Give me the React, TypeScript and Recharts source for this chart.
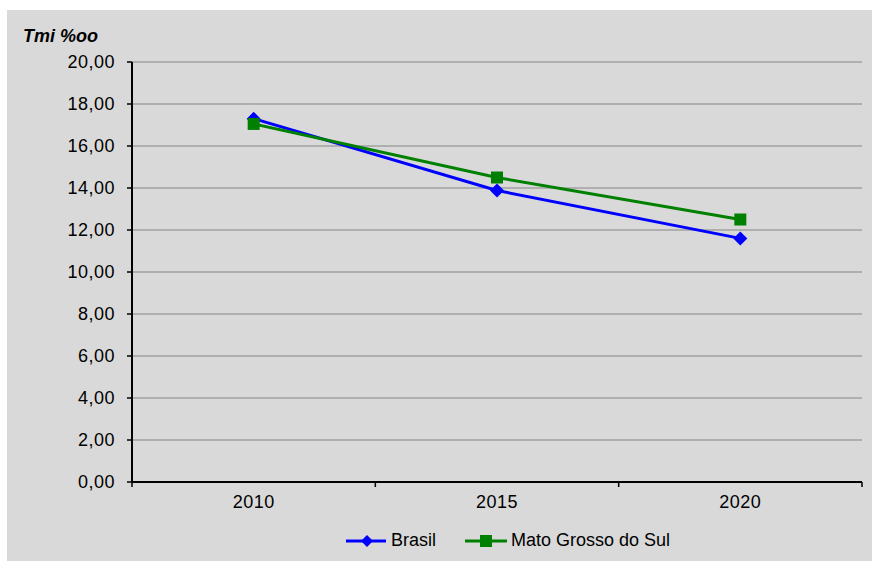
import React from 'react';
import { LineChart, Line, XAxis, YAxis, CartesianGrid, Legend } from 'recharts';

const years = ['2010', '2015', '2020'];
const brasil = [17.3, 13.88, 11.6];
const matoGrosso = [17.05, 14.5, 12.5];
const yTicks = [0, 2, 4, 6, 8, 10, 12, 14, 16, 18, 20];
const seriesNames = ['Brasil', 'Mato Grosso do Sul'];
const seriesColors = ['#0000ff', '#008000'];

const data = years.map((y, i) => ({ year: y, brasil: brasil[i], ms: matoGrosso[i] }));

const FONT = '"Liberation Sans", Arial, sans-serif';

const fmt = (v: number) => v.toFixed(2).replace('.', ',');

const Diamond = (props: any) => {
  const { cx, cy, fill } = props;
  if (cx == null || cy == null) return null;
  const r = 7;
  return <polygon points={`${cx},${cy - r} ${cx + r},${cy} ${cx},${cy + r} ${cx - r},${cy}`} fill={fill} />;
};

const Square = (props: any) => {
  const { cx, cy, fill } = props;
  if (cx == null || cy == null) return null;
  const s = 12;
  return <rect x={cx - s / 2} y={cy - s / 2} width={s} height={s} fill={fill} />;
};

const XTick = (props: any) => {
  const { x, y, payload, index, visibleTicksCount, width } = props;
  const half = payload && payload.offset != null ? payload.offset : width / visibleTicksCount / 2;
  const axisY = y - 13;
  return (
    <g>
      <line x1={x - half} x2={x - half} y1={axisY} y2={axisY + 5} stroke="#000" strokeWidth={1.5} />
      {index === visibleTicksCount - 1 && (
        <line x1={x + half} x2={x + half} y1={axisY} y2={axisY + 5} stroke="#000" strokeWidth={1.5} />
      )}
      <text x={x} y={y} dy="0.71em" textAnchor="middle" fontSize={18} letterSpacing={0.5} fill="#000" fontFamily={FONT}>
        {payload.value}
      </text>
    </g>
  );
};

const YTick = (props: any) => {
  const { x, y, payload } = props;
  return (
    <text x={x} y={y} dy="0.355em" textAnchor="end" fontSize={18} letterSpacing={0.5} fill="#000" fontFamily={FONT}>
      {fmt(payload.value)}
    </text>
  );
};

const LegendContent = () => (
  <div style={{ display: 'flex', alignItems: 'center', fontFamily: FONT, fontSize: 18, color: '#000', whiteSpace: 'nowrap' }}>
    <svg width={40} height={14} style={{ display: 'block' }}>
      <line x1={0} x2={40} y1={7} y2={7} stroke={seriesColors[0]} strokeWidth={3} />
      <polygon points="21,1 27,7 21,13 15,7" fill={seriesColors[0]} />
    </svg>
    <span style={{ marginLeft: 5 }}>{seriesNames[0]}</span>
    <svg width={42} height={14} style={{ display: 'block', marginLeft: 29 }}>
      <line x1={0} x2={42} y1={7} y2={7} stroke={seriesColors[1]} strokeWidth={3} />
      <rect x={15} y={1} width={12} height={12} fill={seriesColors[1]} />
    </svg>
    <span style={{ marginLeft: 4 }}>{seriesNames[1]}</span>
  </div>
);

export default function App() {
  return (
    <div style={{ position: 'absolute', left: 0, top: 0, width: 872, height: 561, background: '#fff' }}>
      <div style={{ position: 'absolute', left: 7, top: 10, right: 0, bottom: 0, background: '#d9d9d9' }} />
      <div
        style={{
          position: 'absolute',
          left: 23,
          top: 27,
          fontFamily: FONT,
          fontSize: 18,
          lineHeight: '18px',
          fontWeight: 'bold',
          fontStyle: 'italic',
          color: '#000',
        }}
      >
        Tmi %oo
      </div>
      <div style={{ position: 'absolute', left: 0, top: 0 }}>
        <LineChart width={872} height={561} data={data} margin={{ top: 62, right: 10, left: 72, bottom: 49 }}>
          <CartesianGrid vertical={false} stroke="#a0a0a0" strokeWidth={1.5} />
          <XAxis
            dataKey="year"
            scale="band"
            height={30}
            tickLine={false}
            tickSize={5}
            tickMargin={8}
            axisLine={{ stroke: '#000', strokeWidth: 2 }}
            tick={<XTick />}
            interval={0}
          />
          <YAxis
            width={60}
            domain={[0, 20]}
            ticks={yTicks}
            interval={0}
            tickSize={5}
            tickMargin={12}
            tickLine={{ stroke: '#000', strokeWidth: 1.5 }}
            axisLine={{ stroke: '#000', strokeWidth: 2 }}
            tick={<YTick />}
          />
          <Legend
            verticalAlign="middle"
            layout="horizontal"
            align="center"
            content={<LegendContent />}
            wrapperStyle={{ top: 530, left: 346, width: 360 }}
          />
          <Line
            type="linear"
            dataKey="brasil"
            name={seriesNames[0]}
            stroke={seriesColors[0]}
            strokeWidth={3}
            dot={<Diamond fill={seriesColors[0]} />}
            activeDot={false}
            isAnimationActive={false}
          />
          <Line
            type="linear"
            dataKey="ms"
            name={seriesNames[1]}
            stroke={seriesColors[1]}
            strokeWidth={3}
            dot={<Square fill={seriesColors[1]} />}
            activeDot={false}
            isAnimationActive={false}
          />
        </LineChart>
      </div>
    </div>
  );
}
